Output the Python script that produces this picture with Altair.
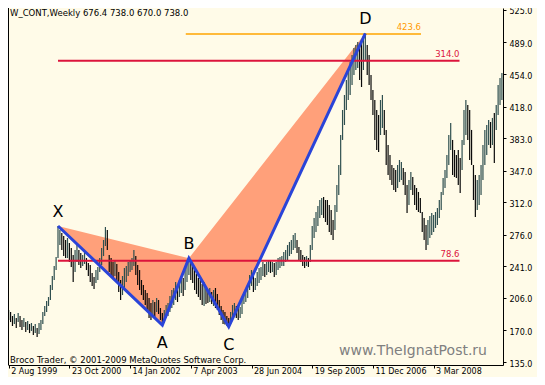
import altair as alt
import pandas as pd

# ---------------- data ----------------
start_date = "1999-08-02"   # first bar; bars every two weeks
highs = [
    192.6, 190.4, 186.0, 188.2, 183.8, 189.3, 186.0, 181.5, 183.8, 179.3,
    180.4, 177.1, 178.2, 174.9, 177.1, 172.7, 178.2, 181.5, 190.4, 197.1,
    202.6, 207.0, 220.3, 230.3, 241.4, 251.3, 285.7, 281.3, 277.9, 274.6,
    270.2, 272.4, 266.9, 261.3, 253.6, 259.1, 264.6, 259.1, 255.8, 253.6,
    256.9, 250.2, 244.7, 242.5, 233.6, 229.2, 236.9, 240.3, 250.2, 261.3,
    270.2, 284.6, 281.3, 253.6, 250.2, 245.8, 248.0, 243.6, 234.7, 225.9,
    230.3, 239.2, 241.4, 245.8, 248.0, 250.2, 259.1, 252.4, 242.5, 236.9,
    225.9, 220.3, 214.8, 211.5, 205.9, 200.4, 203.7, 201.5, 205.9, 203.7,
    194.8, 189.3, 192.6, 198.2, 200.4, 208.1, 214.8, 217.0, 223.6, 221.4,
    225.9, 230.3, 228.1, 236.9, 245.8, 250.0, 245.8, 241.4, 236.9, 232.5,
    228.1, 225.9, 221.4, 223.6, 218.1, 214.8, 217.0, 212.6, 214.8, 217.0,
    210.4, 203.7, 197.1, 192.6, 190.4, 186.0, 183.8, 190.4, 198.2, 200.4,
    197.1, 198.2, 195.9, 203.7, 212.6, 214.8, 221.4, 231.4, 236.9, 230.3,
    228.1, 234.7, 239.2, 240.3, 245.8, 243.6, 245.8, 248.0, 246.9, 245.8,
    244.7, 245.8, 250.2, 251.3, 252.4, 256.9, 259.1, 264.6, 268.0, 270.2,
    275.7, 277.9, 270.2, 262.4, 259.1, 253.6, 251.3, 252.4, 250.2, 264.6,
    285.7, 294.6, 301.2, 307.9, 314.5, 316.7, 317.8, 314.5, 314.5, 309.0,
    303.4, 292.3, 309.0, 331.1, 353.3, 386.5, 414.2, 430.8, 447.5, 456.3,
    467.4, 475.2, 482.9, 486.2, 489.6, 486.2, 491.8, 496.2, 499.2, 486.2,
    475.2, 453.0, 436.4, 425.3, 414.2, 408.7, 425.3, 430.8, 414.2, 392.1,
    375.4, 364.4, 353.3, 350.0, 347.7, 353.3, 358.8, 356.6, 350.0, 345.5,
    331.1, 336.7, 345.5, 340.0, 331.1, 327.8, 323.4, 316.7, 301.2, 294.6,
    286.8, 292.3, 296.8, 300.1, 297.9, 301.2, 305.6, 314.5, 323.4, 338.9,
    347.7, 364.4, 386.5, 399.8, 381.0, 369.9, 364.4, 369.9, 361.0, 381.0,
    414.2, 425.3, 419.8, 414.2, 392.1, 353.3, 342.2, 336.7, 342.2, 353.3,
    375.4, 392.1, 397.6, 403.1, 400.9, 405.4, 410.9, 419.8, 441.9, 449.7,
    455.2,
]
lows = [
    181.5, 179.3, 174.9, 177.1, 172.7, 179.3, 173.8, 170.5, 173.8, 168.2,
    170.5, 167.1, 169.4, 164.9, 167.1, 162.7, 166.0, 170.5, 177.1, 186.0,
    190.4, 197.1, 203.7, 214.8, 225.9, 236.9, 250.2, 264.6, 259.1, 252.4,
    250.2, 250.2, 245.8, 240.3, 223.6, 234.7, 245.8, 242.5, 239.2, 241.4,
    243.6, 236.9, 230.3, 223.6, 219.2, 215.9, 222.5, 225.9, 234.7, 242.5,
    252.4, 263.5, 259.1, 234.7, 231.4, 228.1, 230.3, 223.6, 212.6, 203.7,
    209.2, 217.0, 223.6, 230.3, 234.7, 236.9, 241.4, 231.4, 220.3, 214.8,
    209.2, 203.7, 198.2, 192.6, 183.8, 181.5, 186.0, 184.9, 190.4, 188.2,
    181.5, 176.0, 178.2, 183.8, 186.0, 190.4, 194.8, 198.2, 203.7, 201.5,
    207.0, 211.5, 208.1, 214.8, 223.6, 231.4, 225.9, 222.5, 214.8, 210.4,
    207.0, 203.7, 198.2, 197.1, 199.3, 200.4, 201.5, 199.3, 197.1, 194.8,
    192.6, 187.1, 181.5, 177.1, 176.5, 175.2, 174.1, 177.1, 183.8, 186.0,
    183.8, 181.5, 183.8, 188.2, 199.3, 201.5, 205.9, 214.8, 219.2, 212.6,
    214.8, 219.2, 222.5, 225.9, 230.3, 229.2, 231.4, 234.7, 233.6, 234.7,
    229.2, 231.4, 236.9, 239.2, 241.4, 241.4, 245.8, 248.0, 252.4, 254.7,
    259.1, 261.3, 255.8, 248.0, 245.8, 241.4, 239.2, 241.4, 240.3, 245.8,
    259.1, 272.4, 279.0, 285.7, 294.6, 297.9, 294.6, 290.1, 286.8, 279.0,
    275.7, 270.2, 281.3, 301.2, 320.0, 342.2, 381.0, 397.6, 414.2, 425.3,
    430.8, 441.9, 453.0, 458.5, 460.8, 447.5, 439.7, 458.5, 469.6, 453.0,
    441.9, 425.3, 408.7, 381.0, 369.9, 367.7, 386.5, 394.3, 386.5, 353.3,
    342.2, 336.7, 331.1, 325.6, 323.4, 327.8, 334.4, 336.7, 331.1, 320.0,
    300.1, 309.0, 325.6, 320.0, 309.0, 303.4, 301.2, 300.1, 279.0, 270.2,
    259.1, 264.6, 272.4, 275.7, 279.0, 283.5, 286.8, 294.6, 303.4, 320.0,
    327.8, 338.9, 353.3, 369.9, 342.2, 340.0, 338.9, 331.1, 322.3, 347.7,
    375.4, 386.5, 381.0, 358.8, 353.3, 314.5, 295.7, 303.4, 309.0, 320.0,
    336.7, 353.3, 364.4, 375.4, 372.1, 375.4, 355.5, 392.1, 408.7, 419.8,
    425.3,
]

pattern_names = ["X", "A", "B", "C", "D"]
pattern_dates = ["2000-07-31", "2002-09-09", "2003-03-24", "2004-01-12", "2006-10-16"]
pattern_values = [285.7, 176.0, 250.0, 174.1, 499.2]

level_labels = ["78.6", "314.0", "423.6"]
level_values = [247.2, 468.8, 498.4]
level_starts = ["2000-07-31", "2000-07-31", "2003-03-01"]
level_ends = ["2008-09-10", "2008-09-10", "2007-12-01"]

y_ticks = [135.0, 170.0, 206.0, 241.0, 276.0, 312.0, 347.0, 383.0, 418.0, 454.0, 489.0, 525.0]
x_tick_dates = ["1999-08-02", "2000-10-23", "2002-01-14", "2003-04-07",
                "2004-06-28", "2005-09-19", "2006-12-11", "2008-03-03"]
x_domain = ["1999-07-28", "2009-07-28"]
y_domain = [131.7, 527.2]

title_text = "W_CONT,Weekly  676.4 738.0 670.0 738.0"
copyright_text = "Broco Trader, \u00a9 2001-2009 MetaQuotes Software Corp."
watermark_text = "www.TheIgnatPost.ru"

# ---------------- tables ----------------
assert len(highs) == len(lows)
bars = pd.DataFrame({
    "date": pd.date_range(start_date, periods=len(highs), freq="14D").strftime("%Y-%m-%d"),
    "high": highs,
    "low": lows,
})
mids = [(h + l) / 2 for h, l in zip(highs, lows)]
bars["dir"] = ["up" if i == 0 or mids[i] >= mids[i - 1] else "down" for i in range(len(mids))]

pattern = pd.DataFrame({"name": pattern_names, "date": pattern_dates, "value": pattern_values})

tri_rows = []
for k, (a, b, c) in enumerate([(0, 1, 2), (2, 3, 4)]):
    ta, tb, tc = (pd.Timestamp(pattern_dates[j]) for j in (a, b, c))
    va, vb, vc = pattern_values[a], pattern_values[b], pattern_values[c]
    upper_b = va + (vc - va) * (tb - ta).days / (tc - ta).days
    tri_rows += [
        {"tri": k, "date": pattern_dates[a], "lo": va, "hi": va},
        {"tri": k, "date": pattern_dates[b], "lo": vb, "hi": upper_b},
        {"tri": k, "date": pattern_dates[c], "lo": vc, "hi": vc},
    ]
tris = pd.DataFrame(tri_rows)

levels = pd.DataFrame({"label": level_labels, "value": level_values,
                       "start": level_starts, "end": level_ends})


def dt(s):
    y, m, d = (int(p) for p in s.split("-"))
    return alt.DateTime(year=y, month=m, date=d, utc=True)


FONT = "DejaVu Sans"
xscale = alt.Scale(type="utc", domain=[dt(s) for s in x_domain], nice=False)
yscale = alt.Scale(domain=y_domain, nice=False, zero=False)
xaxis = alt.Axis(orient="bottom", values=[dt(s) for s in x_tick_dates],
                 labelExpr="utcFormat(datum.value, '%-d %b %Y')",
                 title=None, grid=False, domainColor="black", domainWidth=1,
                 tickColor="black", tickSize=3, tickWidth=1, labelFont=FONT, labelFontSize=8,
                 labelColor="black", labelAlign="left", labelBaseline="top", labelPadding=-1,
                 labelOffset=2, labelOverlap=False, labelFlush=False)
yaxis = alt.Axis(orient="right", values=y_ticks, format=".1f", title=None, grid=False,
                 domainColor="black", domainWidth=1, tickColor="black", tickSize=3, tickWidth=1,
                 labelFont=FONT, labelFontSize=8, labelColor="black", labelPadding=3,
                 labelBaseline="alphabetic", labelOffset=4,
                 labelOverlap=False, labelFlush=False)


def X(f):
    return alt.X(f"{f}:T", scale=xscale, axis=xaxis)


def Y(f):
    return alt.Y(f"{f}:Q", scale=yscale, axis=yaxis)


fill = alt.Chart(tris).mark_area(color="#FFA07A", opacity=1).encode(
    x=X("date"), y=Y("lo"), y2="hi:Q", detail="tri:N")

price = alt.Chart(bars).mark_rule(strokeWidth=1.2).encode(
    x=X("date"), y=Y("low"), y2="high:Q",
    color=alt.Color("dir:N", scale=alt.Scale(domain=["up", "down"], range=["#2F4F4F", "#0A0A0A"]),
                    legend=None))

red_lines = alt.Chart(levels).transform_filter(alt.datum.label != "423.6").mark_rule(
    color="#DC143C", strokeWidth=2).encode(x=X("start"), x2="end:T", y=Y("value"))
orange_line = alt.Chart(levels).transform_filter(alt.datum.label == "423.6").mark_rule(
    color="#FFA500", strokeWidth=1.3).encode(x=X("start"), x2="end:T", y=Y("value"))

red_text = alt.Chart(levels).transform_filter(alt.datum.label != "423.6").mark_text(
    align="right", baseline="alphabetic", dy=-4, font=FONT, fontSize=8.5, color="#DC143C").encode(
    x=X("end"), y=Y("value"), text="label:N")
orange_text = alt.Chart(levels).transform_filter(alt.datum.label == "423.6").mark_text(
    align="right", baseline="alphabetic", dy=-4, font=FONT, fontSize=8.5, color="#FF9900").encode(
    x=X("end"), y=Y("value"), text="label:N")

zigzag = alt.Chart(pattern).mark_line(color="#2A44D8", strokeWidth=3).encode(
    x=X("date"), y=Y("value"))

top_letters = alt.Chart(pattern).transform_filter(
    alt.FieldOneOfPredicate(field="name", oneOf=["X", "B", "D"])).mark_text(
    align="center", baseline="alphabetic", dy=-9, font=FONT, fontSize=16, color="black").encode(
    x=X("date"), y=Y("value"), text="name:N")
bottom_letters = alt.Chart(pattern).transform_filter(
    alt.FieldOneOfPredicate(field="name", oneOf=["A", "C"])).mark_text(
    align="center", baseline="alphabetic", dy=23, font=FONT, fontSize=16, color="black").encode(
    x=X("date"), y=Y("value"), text="name:N")

title = alt.Chart(pd.DataFrame({"t": [title_text]})).mark_text(
    align="left", baseline="alphabetic", font=FONT, fontSize=8.5, color="black").encode(
    text="t:N", x=alt.value(2), y=alt.value(8))
copyright_mark = alt.Chart(pd.DataFrame({"t": [copyright_text]})).mark_text(
    align="left", baseline="alphabetic", font=FONT, fontSize=8.5, color="black").encode(
    text="t:N", x=alt.value(2), y=alt.value(355))
watermark = alt.Chart(pd.DataFrame({"t": [watermark_text]})).mark_text(
    align="right", baseline="alphabetic", font=FONT, fontSize=14, color="#808080").encode(
    text="t:N", x=alt.value(479), y=alt.value(347))
left_frame = alt.Chart(pd.DataFrame({"t": [0]})).mark_rule(color="black", strokeWidth=1).encode(
    x=alt.value(0.5), y=alt.value(0), y2=alt.value(357))

chart = alt.layer(
    fill, price, red_lines, orange_line, zigzag, red_text, orange_text,
    top_letters, bottom_letters, title, copyright_mark, watermark, left_frame,
).properties(
    width=495, height=357,
    autosize=alt.AutoSizeParams(type="none"),
    padding={"left": 0, "top": 0, "right": 34, "bottom": 12},
    background="#FFFBE8",
).configure_view(stroke=None)

chart.save("out.html", embed_options={"renderer": "svg", "actions": False})
